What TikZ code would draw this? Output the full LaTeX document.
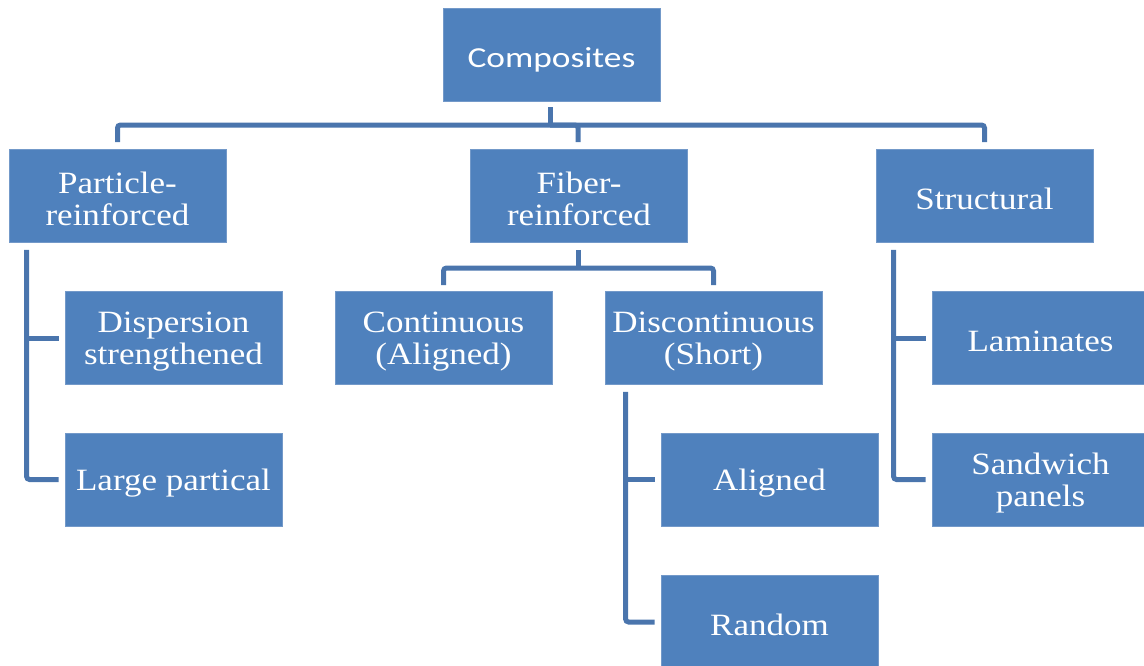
\documentclass[tikz,border=0pt]{standalone}
\usepackage{fontspec}
\setmainfont{Liberation Serif}[FakeStretch=1.13]
\newfontfamily\boxsans{Carlito}[FakeStretch=1.22]
\definecolor{boxblue}{HTML}{4F81BD}
\definecolor{boxedge}{HTML}{7399C9}
\definecolor{lineblue}{HTML}{4A75AD}
\newcommand\lowerstrut[1]{\rule{0pt}{#1}}
\begin{document}
\begin{tikzpicture}[x=1pt,y=-1pt,
  box/.style={draw=boxedge,line width=0.8pt,fill=boxblue,text=white,
    minimum width=217pt,minimum height=93pt,inner sep=2pt,align=center,
    font=\fontsize{31}{32}\selectfont},
  conn/.style={draw=lineblue,line width=5pt,rounded corners=3pt}]
\useasboundingbox (0,0) rectangle (1144,665);
\clip (0,0) rectangle (1144,665);
% boxes
\node[box,font=\boxsans\fontsize{29}{30}\selectfont] (comp) at (551.5,54.5) {\lowerstrut{30pt}Composites};
\node[box] (part) at (117.5,196) {\lowerstrut{28pt}Particle-\\reinforced};
\node[box] (fiber) at (579,196) {\lowerstrut{28pt}Fiber-\\reinforced};
\node[box] (struct) at (984.5,196) {\lowerstrut{28pt}Structural};
\node[box] (disp) at (173.5,338) {\lowerstrut{28pt}Dispersion\\strengthened};
\node[box] (large) at (173.5,479.5) {\lowerstrut{28pt}Large partical};
\node[box] (cont) at (443.5,338) {\lowerstrut{28pt}Continuous\\(Aligned)};
\node[box] (disc) at (713.5,338) {\lowerstrut{28pt}Discontinuous\\(Short)};
\node[box] (align) at (769.5,479.5) {\lowerstrut{28pt}Aligned};
\node[box] (rand) at (769.5,622) {\lowerstrut{28pt}Random};
\node[box] (lam) at (1040.5,338) {\lowerstrut{28pt}Laminates};
\node[box] (sand) at (1040.5,479.5) {\lowerstrut{28pt}Sandwich\\panels};
% bus coordinates
\coordinate (topbus) at (550,125);
\coordinate (fibbus) at (578,268);
% level 1
\draw[conn] ([xshift=-1.5pt,yshift=-6pt]comp.south) -- (topbus);
\draw[conn] ([yshift=7pt]part.north) |- (topbus) -| ([yshift=7pt]struct.north);
\draw[conn] ([xshift=-1pt,yshift=7pt]fiber.north) |- (topbus);
% fiber children
\draw[conn] ([xshift=-1pt,yshift=-7pt]fiber.south) -- (fibbus);
\draw[conn] ([yshift=6pt]cont.north) |- (fibbus) -| ([yshift=6pt]disc.north);
% particle children
\draw[conn] ([xshift=18pt,yshift=-7pt]part.south west) |- ([xshift=-6pt]large.west);
\draw[conn] ([xshift=18pt]part.south west |- disp.west) -- ([xshift=-6pt]disp.west);
% discontinuous children
\draw[conn] ([xshift=21pt,yshift=-7pt]disc.south west) |- ([xshift=-6pt]rand.west);
\draw[conn] ([xshift=21pt]disc.south west |- align.west) -- ([xshift=-6pt]align.west);
% structural children
\draw[conn] ([xshift=18pt,yshift=-7pt]struct.south west) |- ([xshift=-6pt]sand.west);
\draw[conn] ([xshift=18pt]struct.south west |- lam.west) -- ([xshift=-6pt]lam.west);
\end{tikzpicture}
\end{document}
